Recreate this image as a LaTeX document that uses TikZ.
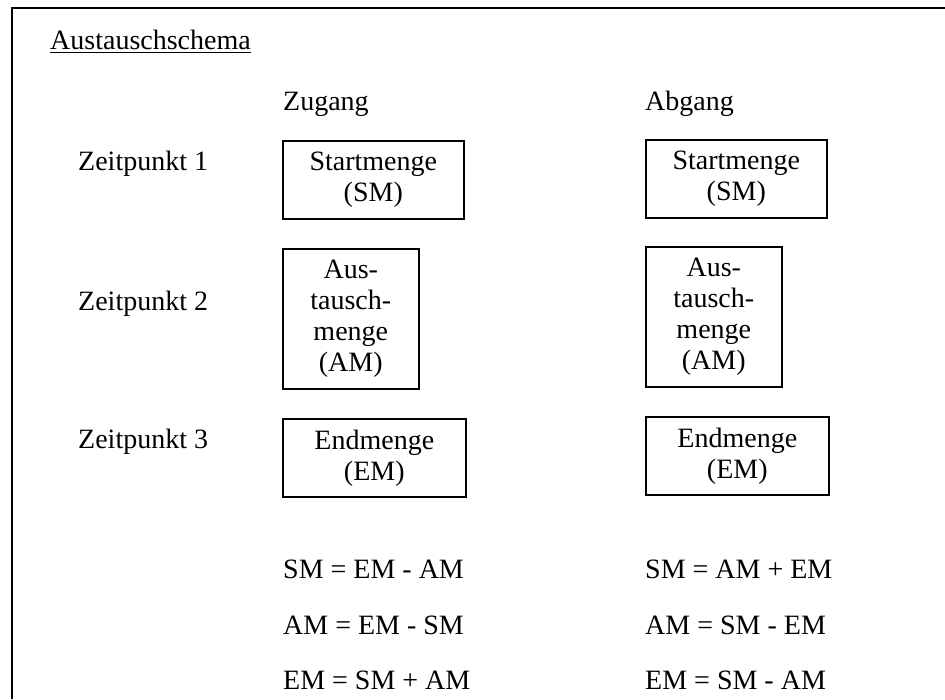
\documentclass[tikz,border=0pt]{standalone}
\usepackage{fontspec}
\setmainfont{Liberation Serif}
\begin{document}
\begin{tikzpicture}[x=1pt,y=-1pt,
  txt/.style={anchor=base west,inner sep=0pt,font=\fontsize{28}{31}\selectfont},
  mbox/.style={draw,line width=1.6pt,align=center,inner sep=0pt,anchor=north west,font=\fontsize{28}{31}\selectfont},
  frameline/.style={line width=2.2pt},
  uline/.style={line width=1.6pt}]
\useasboundingbox (0,0) rectangle (945,699);
% frame
\coordinate (fbl) at (12,699);
\coordinate (ftl) at (12,8);
\coordinate (ftr) at (945,8);
\draw[frameline] (fbl) -- (ftl) -- (ftr);
% title
\node[txt] (title) at (50,49) {Austauschschema};
\draw[uline] (title.south west) ++(0,3) -- ([yshift=-3pt]title.south east);
% column heads
\node[txt] (zugang) at (283,110) {Zugang};
\node[txt] (abgang) at (645,110) {Abgang};
% row labels
\node[txt] (z1) at (78,170) {Zeitpunkt 1};
\node[txt] (z2) at (78,310) {Zeitpunkt 2};
\node[txt] (z3) at (78,448) {Zeitpunkt 3};
% boxes left
\node[mbox,minimum width=181pt,minimum height=78pt] (smL) at (282,140) {Startmenge\\(SM)};
\node[mbox,minimum width=136pt,minimum height=140pt] (amL) at (282,248) {Aus-\\tausch-\\menge\\(AM)};
\node[mbox,minimum width=183pt,minimum height=78pt] (emL) at (282,418) {Endmenge\\(EM)};
% boxes right
\node[mbox,minimum width=181pt,minimum height=78pt] (smR) at (645,139) {Startmenge\\(SM)};
\node[mbox,minimum width=136pt,minimum height=140pt] (amR) at (645,246) {Aus-\\tausch-\\menge\\(AM)};
\node[mbox,minimum width=183pt,minimum height=78pt] (emR) at (645,416) {Endmenge\\(EM)};
% equations
\node[txt] (e1L) at (283,578) {SM = EM - AM};
\node[txt] (e2L) at (283,634) {AM = EM - SM};
\node[txt] (e3L) at (283,689) {EM = SM + AM};
\node[txt] (e1R) at (645,578) {SM = AM + EM};
\node[txt] (e2R) at (645,634) {AM = SM - EM};
\node[txt] (e3R) at (645,689) {EM = SM - AM};
\end{tikzpicture}
\end{document}
